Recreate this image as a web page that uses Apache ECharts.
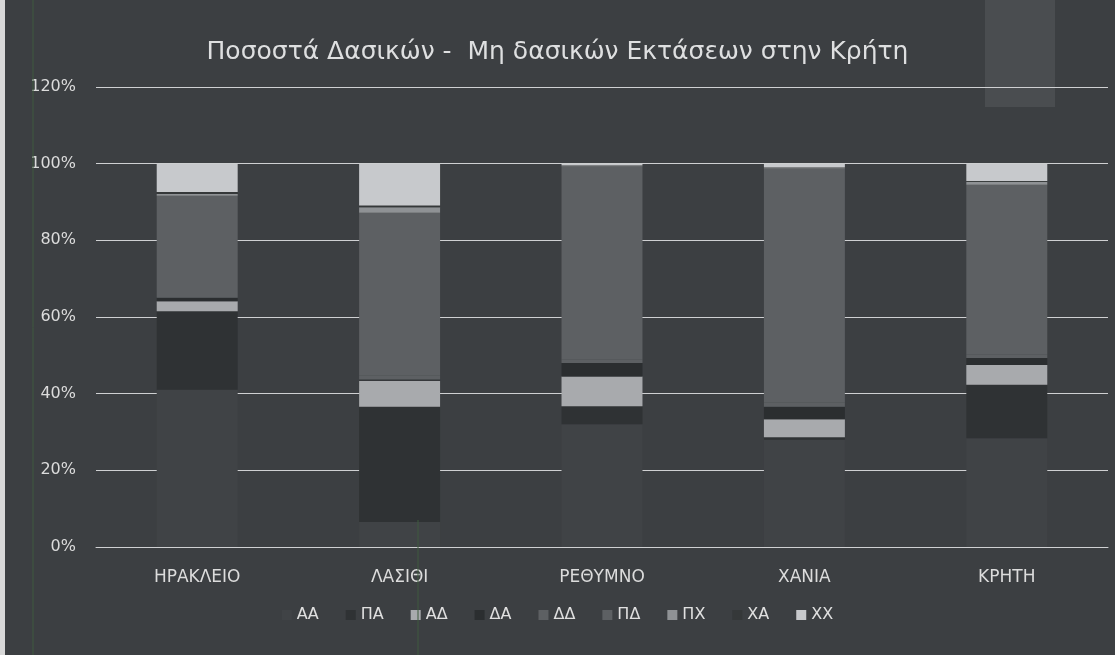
<!DOCTYPE html>
<html>
<head>
<meta charset="utf-8">
<script src="https://cdn.jsdelivr.net/npm/echarts@6/dist/echarts.min.js"></script>
<style>
html,body{margin:0;padding:0;background:#3c3f42;}
#c{width:1115px;height:655px;}
</style>
</head>
<body>
<div id="c"></div>
<script>
const categories = ['ΗΡΑΚΛΕΙΟ', 'ΛΑΣΙΘΙ', 'ΡΕΘΥΜΝΟ', 'ΧΑΝΙΑ', 'ΚΡΗΤΗ'];
const seriesNames = ['ΑΑ', 'ΠΑ', 'ΑΔ', 'ΔΑ', 'ΔΔ', 'ΠΔ', 'ΠΧ', 'ΧΑ', 'ΧΧ'];
const AA = [41, 6.5, 32, 28, 28.4];
const PA = [20.5, 30.1, 4.7, 0.6, 13.9];
const AD = [2.6, 6.8, 7.8, 4.7, 5.2];
const DA = [0.9, 0.3, 3.5, 3.3, 1.8];
const DD = [1, 1, 1, 1, 1];
const PD = [25.6, 42.5, 50.3, 61, 44.2];
const PX = [0.5, 1.4, 0.1, 0.2, 0.8];
const XA = [0.5, 0.5, 0.1, 0.2, 0.2];
const XX = [7.4, 10.9, 0.5, 1, 4.5];
const yTicks = [0, 20, 40, 60, 80, 100, 120];
const seriesValues = [AA, PA, AD, DA, DD, PD, PX, XA, XX];
const colors = ['#404346', '#2f3234', '#a8aaad', '#2b2e30', '#5d6063', '#5d6063', '#8f9295', '#353839', '#c7c9cc'];

const chart = echarts.init(document.getElementById('c'));
const FONT = 'DejaVu Sans';
chart.setOption({
  animation: false,
  backgroundColor: '#3c3f42',
  title: {
    text: 'Ποσοστά Δασικών -  Μη δασικών Εκτάσεων στην Κρήτη',
    left: 'center',
    top: 35,
    textStyle: {color: '#dedfe0', fontFamily: FONT, fontSize: 25, fontWeight: 'normal'}
  },
  legend: {
    bottom: 27,
    left: 'center',
    itemWidth: 10,
    itemHeight: 10,
    itemGap: 27,
    icon: 'rect',
    textStyle: {color: '#e0e0e0', fontFamily: FONT, fontSize: 16},
    data: seriesNames
  },
  grid: {left: 96, right: 7, top: 87, bottom: 108},
  xAxis: {
    type: 'category',
    data: categories,
    axisLine: {show: true, lineStyle: {color: '#cfd0d2', width: 1}},
    axisTick: {show: false},
    axisLabel: {color: '#dcdcdc', fontFamily: FONT, fontSize: 17, margin: 22}
  },
  yAxis: {
    type: 'value',
    min: yTicks[0],
    max: yTicks[yTicks.length - 1],
    interval: 20,
    axisLine: {show: false},
    axisTick: {show: false},
    splitLine: {lineStyle: {color: '#cfd0d2', width: 1}},
    axisLabel: {color: '#dcdcdc', fontFamily: FONT, fontSize: 16, margin: 20, formatter: v => v + '%'}
  },
  graphic: [
    {type: 'rect', z: -1, shape: {x: 985, y: 0, width: 70, height: 107}, style: {fill: '#4a4d50'}},
    {type: 'rect', z: 100, shape: {x: 0, y: 0, width: 5, height: 655}, style: {fill: '#d8d8d8'}},
    {type: 'line', z: 100, shape: {x1: 33, y1: 0, x2: 33, y2: 655}, style: {stroke: '#3f5a3f', lineWidth: 1}},
    {type: 'line', z: 100, shape: {x1: 418, y1: 520, x2: 418, y2: 655}, style: {stroke: '#3f5a3f', lineWidth: 1}}
  ],
  series: seriesNames.map((n, i) => ({
    name: n,
    type: 'bar',
    stack: 'total',
    barWidth: '40%',
    itemStyle: {color: colors[i]},
    data: seriesValues[i]
  }))
});
</script>
</body>
</html>
